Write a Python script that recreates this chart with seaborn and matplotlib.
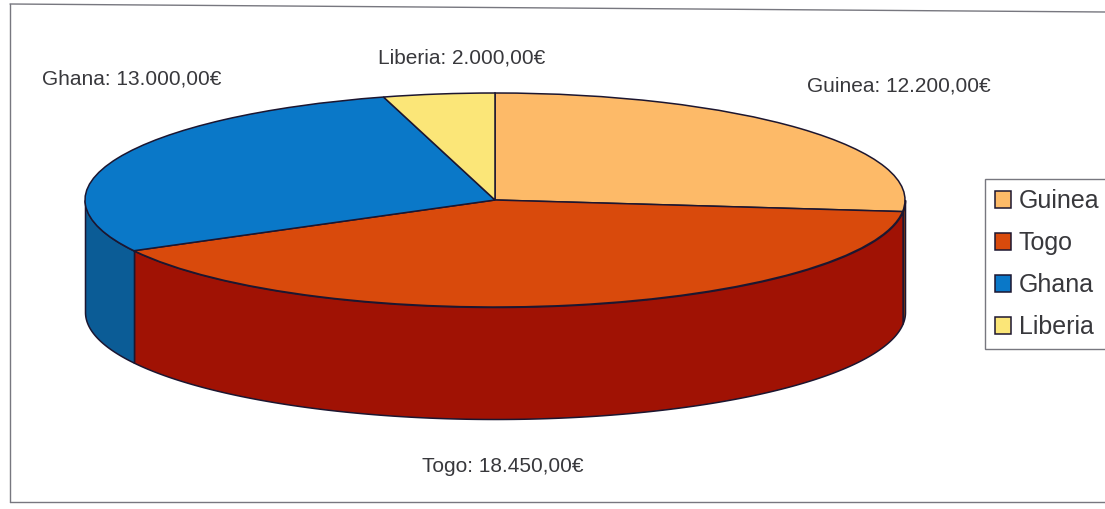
import numpy as np
import seaborn as sns
import matplotlib.pyplot as plt

countries = ['Guinea', 'Togo', 'Ghana', 'Liberia']
amounts = [12200, 18450, 13000, 2000]
amount_labels = ['12.200,00€', '18.450,00€', '13.000,00€', '2.000,00€']
top_colors = ['#fdba68', '#d94a0c', '#0a78c8', '#fbe678']
wall_colors = ['#8a3a10', '#a01204', '#0b5c96', '#b8a040']
edge_color = '#1c1630'

W, H = 1105, 509
CX, CY = 495, 200    # centre of the pie top, pixels
RX, RY = 410, 107    # ellipse radii, pixels
DEPTH = 112 / RY     # wall height in pie units

sns.set_theme(style="white")
plt.rcParams['font.family'] = ['Liberation Sans', 'DejaVu Sans']

fig = plt.figure(figsize=(W / 100, H / 100), dpi=100)
ax = fig.add_axes([0, 0, 1, 1])

wedges, _ = ax.pie(amounts, colors=sns.color_palette(top_colors), startangle=90,
                   counterclock=False, radius=1,
                   wedgeprops={'edgecolor': edge_color, 'linewidth': 1.1, 'zorder': 3})

# pie is squashed by the axes limits to get the perspective look
ax.set_aspect('auto')
ax.set_xlim(-CX / RX, (W - CX) / RX)
ax.set_ylim((CY - H) / RY, CY / RY)
ax.axis('off')

# side walls, only the front half of the ellipse shows
for wedge, wall in zip(wedges, wall_colors):
    start = max(wedge.theta1, -180)
    end = min(wedge.theta2, 0)
    if start >= end:
        continue
    t = np.radians(np.linspace(start, end, 200))
    ax.fill_between(np.cos(t), np.sin(t), np.sin(t) - DEPTH, color=wall,
                    edgecolor=edge_color, linewidth=1.1, zorder=2)

# frame of the chart, slightly skewed as in the scan
frame_kw = dict(color='#77777f', lw=1.0, transform=fig.transFigure)
fig.add_artist(plt.Line2D([10 / W, 1], [1 - 4 / H, 1 - 12 / H], **frame_kw))
fig.add_artist(plt.Line2D([10 / W, 10 / W], [1 - 4 / H, 1 - 502 / H], **frame_kw))
fig.add_artist(plt.Line2D([10 / W, 1], [1 - 502 / H, 1 - 502 / H], **frame_kw))

# value labels
label_pos = [(899, 86), (503, 467), (132, 79), (462, 58)]
for name, amount, (x, y) in zip(countries, amount_labels, label_pos):
    fig.text(x / W, 1 - y / H, f'{name}: {amount}', ha='center', va='center',
             fontsize=15, color='#38383c')

leg = ax.legend(wedges, countries, loc='upper left',
                bbox_to_anchor=(985 / W, 1 - 179 / H), bbox_transform=fig.transFigure,
                fontsize=18, frameon=True, fancybox=False, framealpha=1,
                edgecolor='#77777f', labelcolor='#38383c', borderpad=0.4,
                labelspacing=0.72, handlelength=0.65, handleheight=0.65,
                handletextpad=0.3, borderaxespad=0)
leg.get_frame().set_linewidth(1.0)
leg.set_zorder(5)

fig.savefig('out.png', dpi=100)
